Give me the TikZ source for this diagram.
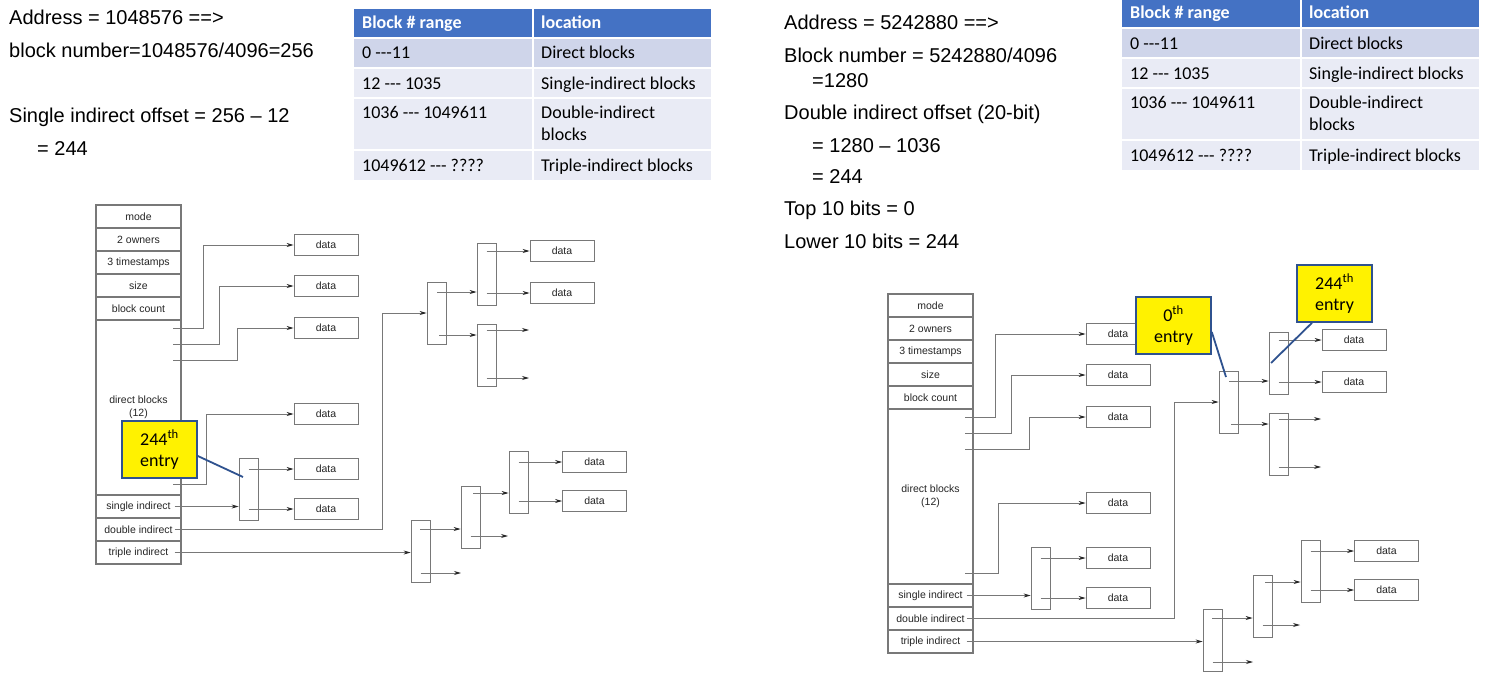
\documentclass[tikz,border=0pt]{standalone}
\usepackage{fontspec}
\setmainfont{Liberation Sans}
\newfontfamily\calfont{Carlito}[Ligatures=TeXOff]
\usetikzlibrary{arrows.meta,calc}
\definecolor{lgray}{RGB}{120,120,120}
\definecolor{hdrblue}{RGB}{68,114,196}
\definecolor{rowdark}{RGB}{207,213,234}
\definecolor{rowlight}{RGB}{233,235,245}
\definecolor{callblue}{RGB}{47,82,143}
\tikzset{
  irow/.style={draw=lgray, line width=1.2pt, minimum width=85pt, minimum height=23pt, inner sep=0pt, align=center, text=black!85, font=\fontsize{10.5}{13}\selectfont},
  databox/.style={draw=lgray, line width=0.8pt, minimum width=64pt, minimum height=20.5pt, inner sep=0pt, text=black!85, font=\fontsize{10.5}{13}\selectfont},
  ptrblock/.style={draw=lgray, line width=0.8pt, minimum width=19pt, minimum height=62pt, inner sep=0pt},
  link/.style={draw=lgray, line width=0.8pt, -{Stealth[length=7pt,width=4pt,color=black!85]}},
  callout/.style={draw=callblue, fill=yellow, line width=1.6pt, minimum width=75pt, minimum height=57pt, inner sep=0pt, align=center, font=\calfont\fontsize{18}{21}\selectfont},
  calloutline/.style={draw=callblue, line width=1.8pt},
  bigtext/.style={anchor=base west, inner sep=0pt, font=\fontsize{20}{24}\selectfont},
  celltext/.style={anchor=base west, inner sep=0pt, font=\calfont\fontsize{18}{22}\selectfont},
  headtext/.style={anchor=base west, inner sep=0pt, text=white, font=\calfont\bfseries\fontsize{18}{22}\selectfont},
}
% one inode diagram, coordinates of the left copy
\newcommand\inodefig{%
  \node[irow] (mode) at (138.5,216.5) {mode};
  \node[irow] (owners) at (138.5,239.5) {2 owners};
  \node[irow] (times) at (138.5,262.5) {3 timestamps};
  \node[irow] (size) at (138.5,285.5) {size};
  \node[irow] (bcount) at (138.5,308.5) {block count};
  \node[irow, minimum height=175pt] (direct) at (138.5,407.5) {direct blocks\\(12)};
  \node[irow] (single) at (138.5,506.5) {single indirect};
  \node[irow] (double) at (138.5,529.5) {double indirect};
  \node[irow] (triple) at (138.5,552.5) {triple indirect};
  % data boxes
  \node[databox] (d1) at (326,245) {data};
  \node[databox] (d2) at (326,286) {data};
  \node[databox] (d3) at (326,328) {data};
  \node[databox] (d4) at (326,414) {data};
  \node[databox] (d5) at (326,469) {data};
  \node[databox] (d6) at (326,509) {data};
  \node[databox] (d7) at (562,251) {data};
  \node[databox] (d8) at (562,293) {data};
  \node[databox] (d9) at (594.5,462) {data};
  \node[databox] (d10) at (594.5,501) {data};
  % pointer blocks
  \node[ptrblock] (S) at (248.5,489.5) {};
  \node[ptrblock] (A) at (436.5,313) {};
  \node[ptrblock] (B) at (486.5,274.5) {};
  \node[ptrblock] (C) at (486.5,355) {};
  \node[ptrblock] (T1) at (420.5,551) {};
  \node[ptrblock] (T2) at (470.5,517) {};
  \node[ptrblock] (T3) at (518.5,482.5) {};
  % direct block pointers
  \coordinate (p1) at (173,328);
  \coordinate (p2) at (173,344);
  \coordinate (p3) at (173,360);
  \coordinate (p4) at (173,484);
  \draw[link] (p1) -- ++(30,0) |- (d1.west);
  \draw[link] (p2) -- ++(46,0) |- (d2.west);
  \draw[link] (p3) -- ++(64,0) |- (d3.west);
  \draw[link] (p4) -- ++(33,0) |- (d4.west);
  % single indirect
  \coordinate (sS) at ([xshift=-7pt]single.east);
  \draw[link] (sS) -- (sS -| S.west);
  \draw[link] (S.center |- d5.west) -- (d5.west);
  \draw[link] (S.center |- d6.west) -- (d6.west);
  % double indirect
  \coordinate (sD) at ([xshift=-7pt]double.east);
  \draw[link] (sD) -- ++(208,0) |- (A.west);
  \coordinate (a1) at (437,292);
  \coordinate (a2) at (439,335);
  \draw[link] (a1) -- (a1 -| B.west);
  \draw[link] (a2) -- (a2 -| C.west);
  \draw[link] (B.center |- d7.west) -- (d7.west);
  \draw[link] (B.center |- d8.west) -- (d8.west);
  \coordinate (c1) at (529,330);
  \coordinate (c2) at (529,378);
  \draw[link] (C.center |- c1) -- (c1);
  \draw[link] (C.center |- c2) -- (c2);
  % triple indirect
  \coordinate (sT) at ([xshift=-7pt]triple.east);
  \draw[link] (sT) -- (sT -| T1.west);
  \coordinate (t1a) at (420,529);
  \coordinate (t1b) at (461,573);
  \draw[link] (t1a) -- (t1a -| T2.west);
  \draw[link] (T1.center |- t1b) -- (t1b);
  \coordinate (t2a) at (473,493);
  \coordinate (t2b) at (508,536);
  \draw[link] (t2a) -- (t2a -| T3.west);
  \draw[link] (T2.center |- t2b) -- (t2b);
  \draw[link] (T3.center |- d9.west) -- (d9.west);
  \draw[link] (T3.center |- d10.west) -- (d10.west);
}
% block-range table, local coordinates from its top left corner
\newcommand\rangetable{%
  \fill[hdrblue] (0,0) rectangle (357,28);
  \fill[rowdark] (0,30) rectangle (357,59);
  \fill[rowlight] (0,59) rectangle (357,171);
  \draw[white, line width=1.5pt] (0,59) -- (357,59) (0,89) -- (357,89) (0,141) -- (357,141) (179,0) -- (179,171);
  \node[headtext] (h1) at (8,20) {Block \# range};
  \node[headtext] (h2) at (187,20) {location};
  \node[celltext] (r1a) at (8,50) {0 ---11};
  \node[celltext] (r1b) at (187,50) {Direct blocks};
  \node[celltext] (r2a) at (8,80) {12 --- 1035};
  \node[celltext] (r2b) at (187,80) {Single-indirect blocks};
  \node[celltext] (r3a) at (8,109) {1036 --- 1049611};
  \node[celltext] (r3b) at (187,109) {Double-indirect};
  \node[celltext] (r3c) at (187,131) {blocks};
  \node[celltext] (r4a) at (8,162) {1049612 --- ????};
  \node[celltext] (r4b) at (187,162) {Triple-indirect blocks};
}
\begin{document}
\begin{tikzpicture}[x=1pt, y=-1pt]
  \fill[white] (0,0) rectangle (1493,677);
  \useasboundingbox (0,0) rectangle (1493,677);
  % left texts
  \node[bigtext] (tl1) at (9,25) {Address = 1048576 ==>};
  \node[bigtext] (tl2) at (9,57) {block number=1048576/4096=256};
  \node[bigtext] (tl3) at (9,122) {Single indirect offset = 256 – 12};
  \node[bigtext] (tl4) at (37,155) {= 244};
  % right texts
  \node[bigtext] (tr1) at (784,30) {Address = 5242880 ==>};
  \node[bigtext] (tr2) at (784,63) {Block number = 5242880/4096};
  \node[bigtext] (tr3) at (812,87) {=1280};
  \node[bigtext] (tr4) at (784,119) {Double indirect offset (20-bit)};
  \node[bigtext] (tr5) at (812,152) {= 1280 – 1036};
  \node[bigtext] (tr6) at (812,183) {= 244};
  \node[bigtext] (tr7) at (784,215) {Top 10 bits = 0};
  \node[bigtext] (tr8) at (784,248) {Lower 10 bits = 244};
  % tables
  \begin{scope}[shift={(354,9)}, name prefix=LT-]
    \rangetable
  \end{scope}
  \begin{scope}[shift={(1122,-1)}, name prefix=RT-]
    \rangetable
  \end{scope}
  % diagrams
  \begin{scope}[name prefix=L-]
    \inodefig
  \end{scope}
  \begin{scope}[shift={(792,89)}, name prefix=R-]
    \inodefig
  \end{scope}
  % callouts
  \node[callout] (c244L) at (159.5,449.5) {244\textsuperscript{th}\\entry};
  \draw[calloutline] ([yshift=-6.5pt]c244L.east) -- ($(L-S.center)+(-5.5,-12.5)$);
  \node[callout] (c0R) at (1173.5,325.5) {0\textsuperscript{th}\\entry};
  \draw[calloutline] ([yshift=-6.5pt]c0R.east) -- ($(R-A.center)+(-2.5,-25)$);
  \node[callout] (c244R) at (1334.5,293.5) {244\textsuperscript{th}\\entry};
  \draw[calloutline] ([xshift=-22.5pt]c244R.south) -- ($(R-B.center)+(-7.5,-0.5)$);
\end{tikzpicture}
\end{document}
